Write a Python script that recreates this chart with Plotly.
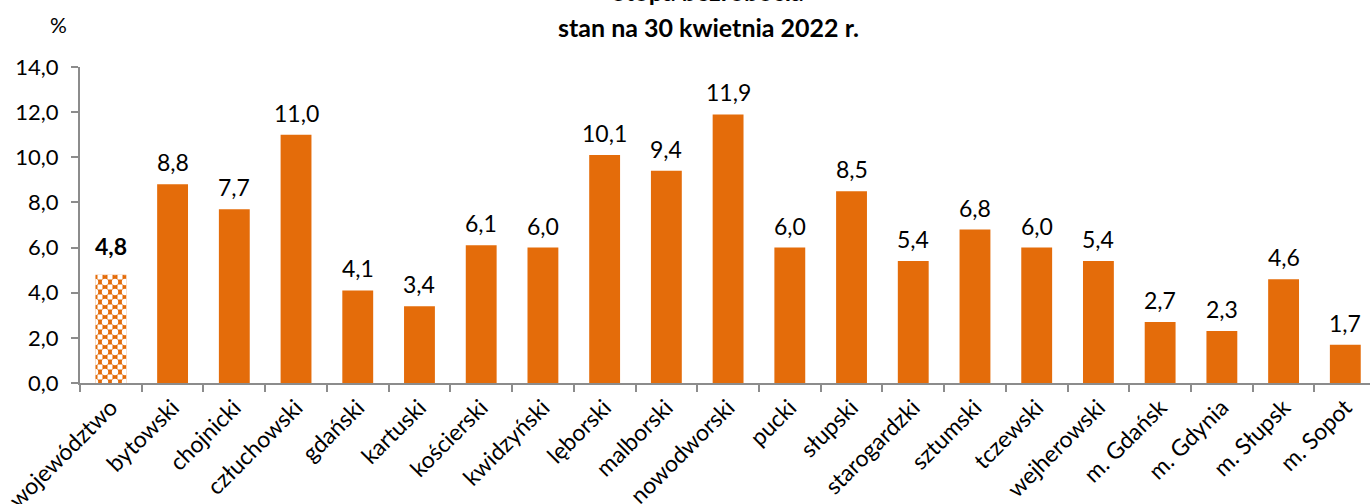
import plotly.graph_objects as go

categories = ["województwo", "bytowski", "chojnicki", "człuchowski", "gdański", "kartuski",
              "kościerski", "kwidzyński", "lęborski", "malborski", "nowodworski", "pucki",
              "słupski", "starogardzki", "sztumski", "tczewski", "wejherowski", "m. Gdańsk",
              "m. Gdynia", "m. Słupsk", "m. Sopot"]
values = [4.8, 8.8, 7.7, 11.0, 4.1, 3.4, 6.1, 6.0, 10.1, 9.4, 11.9, 6.0, 8.5, 5.4, 6.8, 6.0,
          5.4, 2.7, 2.3, 4.6, 1.7]
title_line1 = "Stopa bezrobocia"
title_line2 = "stan na 30 kwietnia 2022 r."
y_unit = "%"
y_ticks = [0, 2, 4, 6, 8, 10, 12, 14]

ORANGE = "#E46C0A"
FONT = "Lato"
AXIS = "#8C8C8C"

fig = go.Figure()
# voivodeship bar: checkerboard built from three overlaid layers
fig.add_trace(go.Bar(
    x=categories[:1], y=values[:1], width=0.5,
    marker=dict(color="white", line=dict(width=0)),
    showlegend=False, hoverinfo="skip"))
fig.add_trace(go.Bar(
    x=categories[:1], y=values[:1], width=0.5,
    marker=dict(color=ORANGE, line=dict(width=0),
                pattern=dict(shape="+", fgcolor=ORANGE, size=10, solidity=0.75,
                             fillmode="replace")),
    showlegend=False, hoverinfo="skip"))
fig.add_trace(go.Bar(
    x=categories[:1], y=values[:1], width=0.5,
    marker=dict(color="white", line=dict(width=0),
                pattern=dict(shape=".", fgcolor="white", size=10, solidity=0.32,
                             fillmode="replace")),
    showlegend=False, hoverinfo="skip"))
fig.add_trace(go.Bar(
    x=categories[1:], y=values[1:], width=0.5,
    marker=dict(color=ORANGE, line=dict(width=0)),
    showlegend=False))

for i, (c, v) in enumerate(zip(categories, values)):
    fig.add_annotation(x=c, y=v, xref="x", yref="y", text=f"{v:.1f}".replace(".", ","),
                       showarrow=False, yanchor="middle", yshift=29 if i == 0 else 22,
                       font=dict(family=FONT, size=23, color="black",
                                 weight="bold" if i == 0 else "normal"))

fig.add_annotation(x=0.487, y=1.239, xref="paper", yref="paper", text=f"<b>{title_line1}</b>",
                   showarrow=False, xanchor="center", yanchor="middle",
                   font=dict(family=FONT, size=25, color="black"))
fig.add_annotation(x=0.487, y=1.1266, xref="paper", yref="paper", text=f"<b>{title_line2}</b>",
                   showarrow=False, xanchor="center", yanchor="middle",
                   font=dict(family=FONT, size=25, color="black"))
fig.add_annotation(x=-0.017, y=1.133, xref="paper", yref="paper", text=y_unit,
                   showarrow=False, xanchor="center", yanchor="middle",
                   font=dict(family=FONT, size=21, color="black"))

fig.update_layout(
    width=1370, height=504,
    margin=dict(l=80, r=0, t=67, b=121, autoexpand=False),
    paper_bgcolor="white", plot_bgcolor="white",
    separators=", ",
    barmode="overlay",
    font=dict(family=FONT, size=21, color="black"),
)
fig.update_xaxes(
    type="category", range=[-0.5, 20.4], automargin=False,
    showline=True, linecolor=AXIS, linewidth=2,
    ticks="outside", tickson="boundaries", ticklen=7, tickcolor=AXIS, tickwidth=2,
    tickangle=-45, tickfont=dict(family=FONT, size=23, color="black"),
    showgrid=False,
)
fig.update_yaxes(
    range=[0, 14], tickvals=y_ticks, tickformat=".1f", automargin=False,
    showline=True, linecolor=AXIS, linewidth=2,
    ticks="outside", ticklen=7, tickcolor=AXIS, tickwidth=2, ticklabelstandoff=8,
    tickfont=dict(family=FONT, size=22, color="black"),
    showgrid=False, zeroline=False,
)

fig.write_html("out.html", config={"displayModeBar": False},
               post_script="document.body.style.margin='0';document.body.style.overflow='hidden';")
